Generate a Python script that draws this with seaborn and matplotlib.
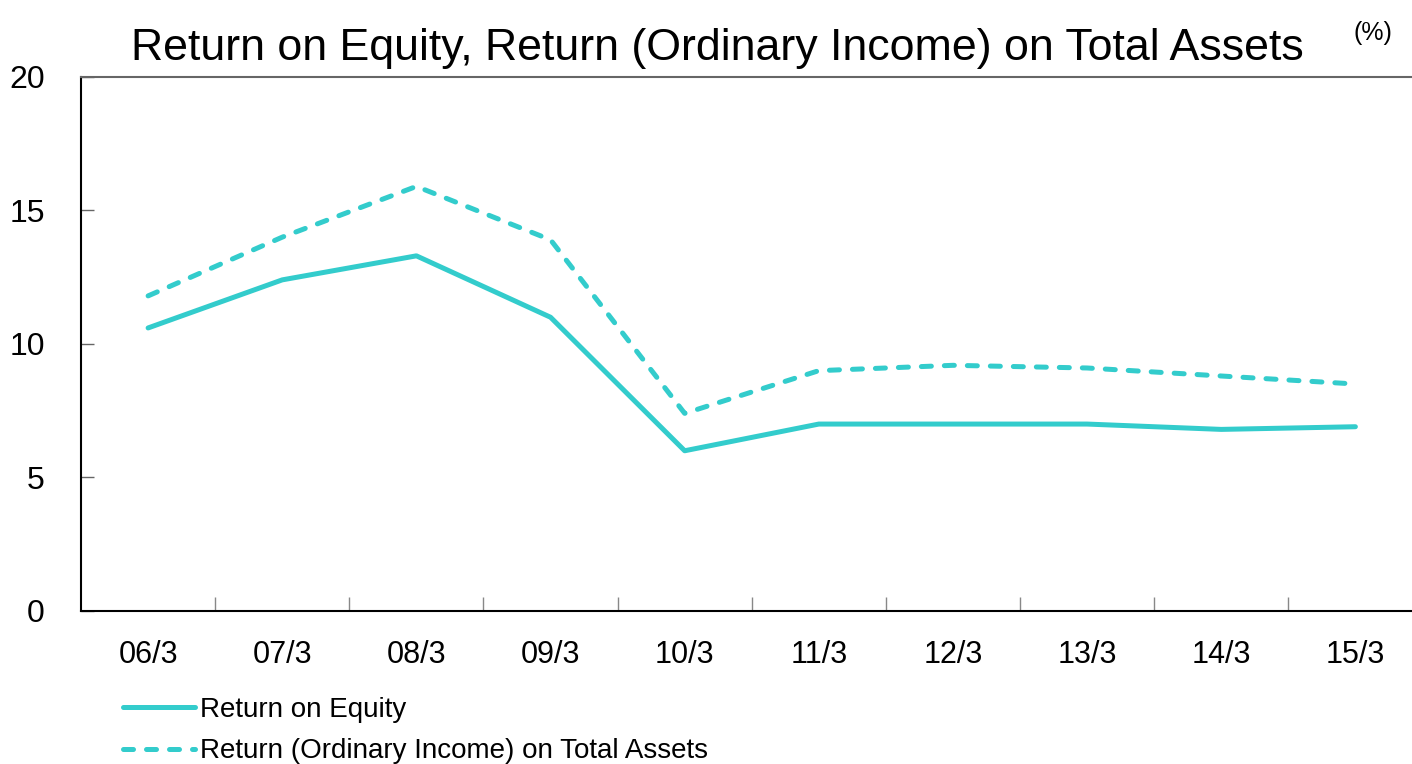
import numpy as np
import pandas as pd
import matplotlib.pyplot as plt
import seaborn as sns
from matplotlib.lines import Line2D

# fiscal year-end labels
periods = ["06/3", "07/3", "08/3", "09/3", "10/3", "11/3", "12/3", "13/3", "14/3", "15/3"]
roe = [10.6, 12.4, 13.3, 11.0, 6.0, 7.0, 7.0, 7.0, 6.8, 6.9]
roa = [11.8, 14.0, 15.9, 13.9, 7.4, 9.0, 9.2, 9.1, 8.8, 8.5]

series_names = ["Return on Equity", "Return (Ordinary Income) on Total Assets"]
color = "#33CCCC"
dash = (2.0, 2.6)

sns.set_style("white", {"xtick.bottom": True, "ytick.left": True,
                        "text.color": "black", "xtick.color": "black",
                        "ytick.color": "black"})
plt.rcParams['font.family'] = ['Liberation Sans', 'DejaVu Sans']
plt.rcParams['lines.dash_capstyle'] = 'round'
plt.rcParams['lines.solid_capstyle'] = 'round'

df = pd.DataFrame({
    "pos": list(range(len(periods))) * 2,
    "value": roe + roa,
    "series": [series_names[0]] * len(roe) + [series_names[1]] * len(roa),
})

fig = plt.figure(figsize=(14.12, 7.64), dpi=100)
ax = fig.add_axes([0.0574, 0.2003, 0.95, 0.699])

sns.lineplot(data=df, x="pos", y="value", style="series",
             style_order=series_names,
             dashes={series_names[0]: "", series_names[1]: dash},
             color=color, linewidth=3.6, legend=False, ax=ax)

ax.set_xlim(-0.5, len(periods) - 0.5)
ax.set_ylim(0, 20)
ax.set_yticks([0, 5, 10, 15, 20])
ax.set_yticklabels(["0", "5", "10", "15", "20"], fontsize=23)
ax.set_xticks(range(len(periods)))
ax.set_xticklabels(periods, fontsize=22)
ax.tick_params(axis="x", which="major", length=0, pad=21, labelcolor="black")
ax.set_xticks(np.arange(0.5, len(periods) - 0.5, 1), minor=True)
ax.tick_params(axis="x", which="minor", direction="in", length=10, color="#888888", width=1)
ax.tick_params(axis="y", direction="in", length=9, color="#666666", width=1,
               pad=26, labelcolor="black")
ax.set_xlabel("")
ax.set_ylabel("")

for s in ["left", "bottom"]:
    ax.spines[s].set_color("black")
    ax.spines[s].set_linewidth(1.5)
ax.spines["top"].set_color("#666666")
ax.spines["top"].set_linewidth(1.5)
ax.spines["right"].set_visible(False)

fig.text(0.508, 0.937, "Return on Equity, Return (Ordinary Income) on Total Assets",
         ha="center", va="center", fontsize=32.2, color="black")
fig.text(0.972, 0.957, "(%)", ha="center", va="center", fontsize=18, color="black")

handles = [Line2D([], [], color=color, linewidth=3.6, linestyle="-"),
           Line2D([], [], color=color, linewidth=3.6, linestyle=(0, dash))]
fig.legend(handles, series_names, loc="upper left", bbox_to_anchor=(0.079, 0.102),
           frameon=False, fontsize=20, handlelength=2.6, handletextpad=0.2,
           labelspacing=0.55, borderaxespad=0)

fig.savefig("out.png", dpi=100)
